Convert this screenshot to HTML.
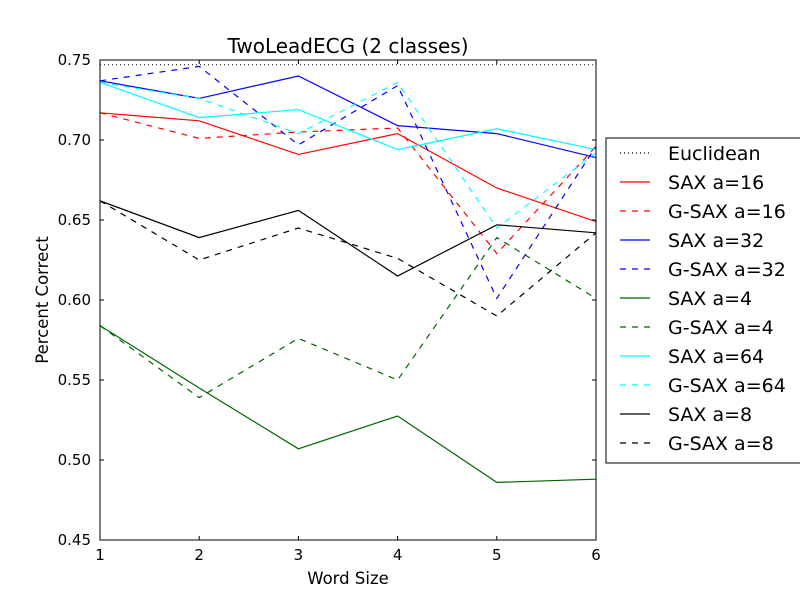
<!DOCTYPE html>
<html><head><meta charset="utf-8"><style>
body{margin:0;background:#fff;}
svg text{font-family:"DejaVu Sans","Liberation Sans",sans-serif;}
</style></head><body>
<svg id="chart" width="800" height="600" xmlns="http://www.w3.org/2000/svg"></svg>
<script>
const categories=[1,2,3,4,5,6];
const euclidean=0.747;
const sax16=[0.717,0.712,0.691,0.704,0.670,0.649];
const gsax16=[0.717,0.701,0.705,0.7075,0.629,0.696];
const sax32=[0.737,0.726,0.740,0.709,0.704,0.689];
const gsax32=[0.737,0.746,0.697,0.734,0.601,0.696];
const sax4=[0.584,0.545,0.507,0.5275,0.486,0.488];
const gsax4=[0.584,0.539,0.576,0.550,0.639,0.601];
const sax64=[0.736,0.714,0.719,0.694,0.707,0.694];
const gsax64=[0.736,0.726,0.704,0.736,0.645,0.692];
const sax8=[0.662,0.639,0.656,0.615,0.647,0.642];
const gsax8=[0.662,0.625,0.645,0.626,0.590,0.642];
const yTicks=[0.45,0.50,0.55,0.60,0.65,0.70,0.75];
const yTickLabels=["0.45","0.50","0.55","0.60","0.65","0.70","0.75"];
const series=[
 {name:"SAX a=16",v:sax16,c:"#ff0000",d:""},
 {name:"G-SAX a=16",v:gsax16,c:"#ff0000",d:"6,6"},
 {name:"SAX a=32",v:sax32,c:"#0000ff",d:""},
 {name:"G-SAX a=32",v:gsax32,c:"#0000ff",d:"6,6"},
 {name:"SAX a=4",v:sax4,c:"#006400",d:""},
 {name:"G-SAX a=4",v:gsax4,c:"#006400",d:"6,6"},
 {name:"SAX a=64",v:sax64,c:"#00ffff",d:""},
 {name:"G-SAX a=64",v:gsax64,c:"#00ffff",d:"6,6"},
 {name:"SAX a=8",v:sax8,c:"#000000",d:""},
 {name:"G-SAX a=8",v:gsax8,c:"#000000",d:"6,6"}];
const L=100,R=596,T=60,B=540;
const xs=v=>L+(v-1)/5*(R-L);
const ys=v=>B-(v-0.45)/0.3*(B-T);
const svg=document.getElementById('chart');
const NS="http://www.w3.org/2000/svg";
function mk(t,a,p){const e=document.createElementNS(NS,t);for(const k in a)e.setAttribute(k,a[k]);(p||svg).appendChild(e);return e;}
const clip=mk('clipPath',{id:'pc'});mk('rect',{x:L,y:T,width:R-L,height:B-T},clip);
const eu=mk('line',{x1:L,x2:R,y1:ys(euclidean),y2:ys(euclidean),stroke:'#000','stroke-dasharray':'1,3'});


series.forEach(s=>{
 const p=mk('polyline',{points:s.v.map((v,i)=>xs(categories[i])+','+ys(v)).join(' '),fill:'none',stroke:s.c,'stroke-width':1.2,'stroke-dasharray':s.d,'clip-path':'url(#pc)'});
 
 
});
const frame=mk('rect',{x:L,y:T,width:R-L,height:B-T,fill:'none',stroke:'#000'});


categories.forEach(c=>{
 const x=xs(c);
 mk('line',{x1:x,x2:x,y1:B,y2:B-4,stroke:'#000'});mk('line',{x1:x,x2:x,y1:T,y2:T+4,stroke:'#000'});
 const t=mk('text',{x:x,y:B+20,'text-anchor':'middle','font-size':15});t.textContent=c;
 
 
});
yTicks.forEach((v,i)=>{
 const y=ys(v);
 mk('line',{x1:L,x2:L+4,y1:y,y2:y,stroke:'#000'});mk('line',{x1:R,x2:R-4,y1:y,y2:y,stroke:'#000'});
 const t=mk('text',{x:L-9,y:y+5,'text-anchor':'end','font-size':15});t.textContent=yTickLabels[i];
 
 
});
let t=mk('text',{x:348,y:53,'text-anchor':'middle','font-size':20});t.textContent="TwoLeadECG (2 classes)";


t=mk('text',{x:348,y:584,'text-anchor':'middle','font-size':16.5});t.textContent="Word Size";


t=mk('text',{x:48,y:300,'text-anchor':'middle','font-size':16.5,transform:'rotate(-90 48 300)'});t.textContent="Percent Correct";


const lg=mk('g',{});


mk('rect',{x:606,y:138,width:200,height:325,fill:'#fff',stroke:'#000'},lg);
const entries=[{name:"Euclidean",c:"#000",d:"1,3"}].concat(series);
entries.forEach((s,i)=>{
 const y=153+i*29;
 mk('line',{x1:620,x2:650,y1:y,y2:y,stroke:s.c,'stroke-width':1.2,'stroke-dasharray':s.d},lg);
 const tx=mk('text',{x:668,y:y+7,'font-size':19},lg);tx.textContent=s.name;
 
 
});
</script>
</body></html>
